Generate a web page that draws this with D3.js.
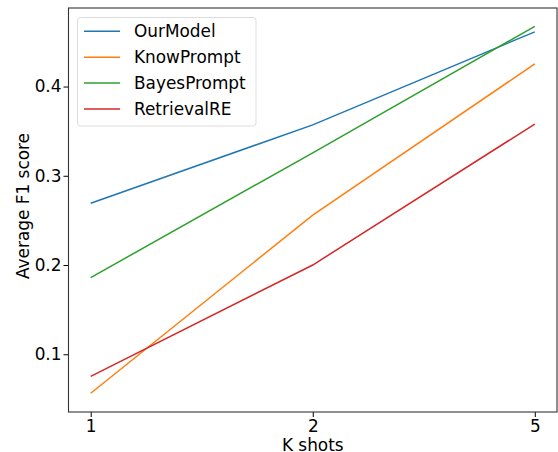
<!DOCTYPE html>
<html>
<head>
<meta charset="utf-8">
<script src="https://cdn.jsdelivr.net/npm/d3@7"></script>
<style>
  body { margin: 0; background: #fff; }
  text { font-family: "DejaVu Sans", sans-serif; fill: #000; }
</style>
</head>
<body>
<div id="chart"></div>
<script>
// ---- data ----
const shots = ["1", "2", "5"];
const ourModel    = [0.2693, 0.3570, 0.4613];
const knowPrompt  = [0.0563, 0.2560, 0.4254];
const bayesPrompt = [0.1859, 0.3257, 0.4675];
const retrievalRE = [0.0753, 0.2000, 0.3580];
const yTicks = [0.1, 0.2, 0.3, 0.4];

const series = [
  { name: "OurModel",    values: ourModel,    color: "#1f77b4" },
  { name: "KnowPrompt",  values: knowPrompt,  color: "#ff7f0e" },
  { name: "BayesPrompt", values: bayesPrompt, color: "#2ca02c" },
  { name: "RetrievalRE", values: retrievalRE, color: "#d62728" }
];

const fontSize = "16.9px";

// ---- space setup ----
const W = 558, H = 452;
const margin = { top: 8, right: 1, bottom: 40, left: 68.5 };
const width = W - margin.left - margin.right;
const height = H - margin.top - margin.bottom;

const svg = d3.select("#chart").append("svg")
    .attr("width", W)
    .attr("height", H);

const g = svg.append("g")
    .attr("transform", `translate(${margin.left},${margin.top})`);

// ---- scales ----
// categorical positions 0..n-1 with matplotlib's 5% margins
const n = shots.length;
const xPad = (n - 1) * 0.05;
const x = d3.scaleLinear()
    .domain([-xPad, n - 1 + xPad])
    .range([0, width]);

const y = d3.scaleLinear()
    .domain([0.0353, 0.488])
    .range([height, 0]);

// ---- axes ----
const xAxis = d3.axisBottom(x)
    .tickValues(d3.range(n))
    .tickFormat(i => shots[i])
    .tickSize(5)
    .tickPadding(3);

const yAxis = d3.axisLeft(y)
    .tickValues(yTicks)
    .tickFormat(d3.format(".1f"))
    .tickSize(5)
    .tickPadding(2);

const gx = g.append("g")
    .attr("transform", `translate(0,${height})`)
    .call(xAxis);

const gy = g.append("g").call(yAxis);

[gx, gy].forEach(ax => {
  ax.attr("font-size", null).attr("font-family", null);
  ax.select(".domain").remove();
  ax.selectAll(".tick line").attr("stroke", "#000").attr("stroke-width", 1);
  ax.selectAll(".tick text")
    .style("font-size", fontSize)
    .attr("fill", "#000");
});

// frame
g.append("rect")
    .attr("width", width)
    .attr("height", height)
    .attr("fill", "none")
    .attr("stroke", "#333")
    .attr("stroke-width", 1.1);

// ---- lines ----
const line = d3.line()
    .x((d, i) => x(i))
    .y(d => y(d));

g.selectAll(".series")
  .data(series)
  .enter().append("path")
    .attr("class", "series")
    .attr("fill", "none")
    .attr("stroke", d => d.color)
    .attr("stroke-width", 1.5)
    .attr("d", d => line(d.values));

// ---- axis labels ----
svg.append("text")
    .attr("x", margin.left + width / 2)
    .attr("y", 450.5)
    .attr("text-anchor", "middle")
    .style("font-size", fontSize)
    .text("K shots");

svg.append("text")
    .attr("transform", `translate(29,${margin.top + height / 2 - 4}) rotate(-90)`)
    .attr("text-anchor", "middle")
    .style("font-size", fontSize)
    .text("Average F1 score");

// ---- legend ----
const legend = svg.append("g").attr("transform", "translate(77.5,17.5)");

legend.append("rect")
    .attr("width", 178.5)
    .attr("height", 108.5)
    .attr("rx", 3)
    .attr("fill", "#fff")
    .attr("fill-opacity", 0.8)
    .attr("stroke", "#ddd")
    .attr("stroke-width", 1);

const item = legend.selectAll(".item")
  .data(series)
  .enter().append("g")
    .attr("class", "item")
    .attr("transform", (d, i) => `translate(0,${13.8 + i * 25.9})`);

item.append("line")
    .attr("x1", 6.5)
    .attr("x2", 42.5)
    .attr("stroke", d => d.color)
    .attr("stroke-width", 1.5);

item.append("text")
    .attr("x", 56.5)
    .attr("dy", "0.36em")
    .style("font-size", fontSize)
    .text(d => d.name);
</script>
</body>
</html>
